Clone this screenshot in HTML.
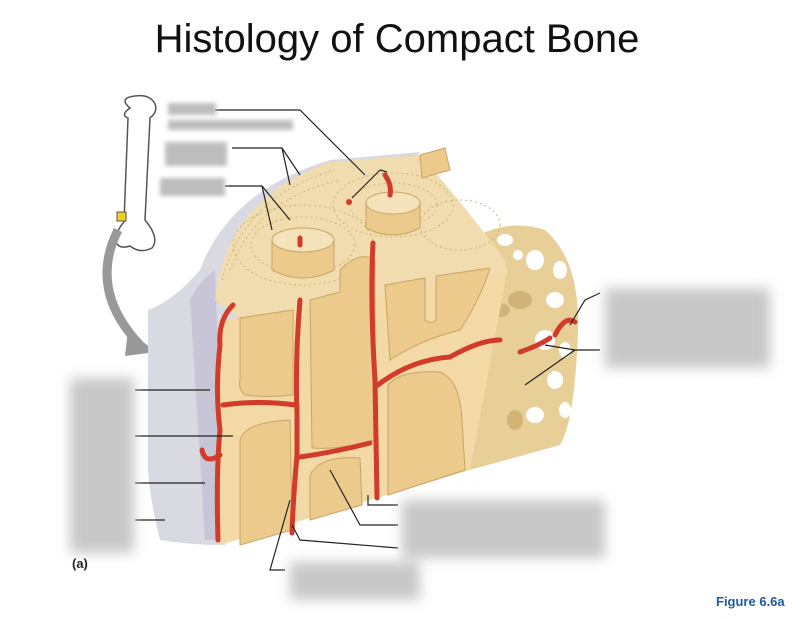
<!DOCTYPE html>
<html><head><meta charset="utf-8"><style>
body{margin:0;background:#fff;width:800px;height:614px;overflow:hidden;font-family:"Liberation Sans",sans-serif}
</style></head><body>
<svg width="800" height="614" viewBox="0 0 800 614" xmlns="http://www.w3.org/2000/svg">
<defs>
<filter id="b" x="-20%" y="-20%" width="140%" height="140%"><feGaussianBlur stdDeviation="6"/></filter>
<filter id="b2"><feGaussianBlur stdDeviation="2"/></filter>
</defs>
<text x="397" y="52" text-anchor="middle" font-size="40" fill="#111">Histology of Compact Bone</text>
<!-- small bone -->
<path d="M130 108 Q118 98 135 96 Q150 94 155 104 Q158 112 150 118 L145 220 Q160 238 152 248 Q140 254 130 246 Q118 250 115 240 Q118 228 124 222 L128 118 Q120 115 130 108Z" fill="#fff" stroke="#555" stroke-width="1.5"/>
<rect x="117" y="212" width="9" height="9" fill="#f0d020" stroke="#555"/>
<!-- arrow -->
<path d="M118 230 Q88 290 140 345" fill="none" stroke="#999" stroke-width="9"/>
<polygon points="128,330 156,352 125,356" fill="#999"/>
<!-- periosteum gray -->
<path d="M148 310 Q175 300 200 270 Q230 190 330 160 L420 152 L300 300 L225 545 Q190 545 160 540 Q150 500 148 470 Z" fill="#d9d9e1"/>
<path d="M190 300 Q200 280 215 270 L225 540 L205 540 Z" fill="#c8c6d6"/>
<!-- spongy bone -->
<path d="M455 250 Q500 215 545 230 Q580 260 578 330 Q575 420 560 445 L470 470 Z" fill="#e8cf98"/>
<g fill="#fff">
<ellipse cx="505" cy="240" rx="8" ry="6"/><ellipse cx="535" cy="260" rx="9" ry="10"/>
<ellipse cx="560" cy="270" rx="7" ry="9"/><ellipse cx="555" cy="300" rx="9" ry="8"/>
<ellipse cx="545" cy="340" rx="10" ry="10"/><ellipse cx="565" cy="350" rx="6" ry="8"/>
<ellipse cx="555" cy="380" rx="8" ry="9"/><ellipse cx="535" cy="415" rx="9" ry="8"/>
<ellipse cx="565" cy="410" rx="6" ry="8"/><ellipse cx="518" cy="255" rx="5" ry="5"/>
</g>
<g fill="#c9a86a" opacity="0.7">
<ellipse cx="520" cy="300" rx="12" ry="9"/><ellipse cx="500" cy="310" rx="10" ry="7"/>
<ellipse cx="515" cy="420" rx="8" ry="10"/>
</g>
<!-- top surface -->
<path d="M215 300 Q225 200 330 162 L420 155 Q460 200 505 260 L507 273 L240 318 Z" fill="#f0dcae"/>
<g fill="none" stroke="#d0b27a" stroke-width="1" stroke-dasharray="2 3">
<ellipse cx="303" cy="245" rx="70" ry="40"/><ellipse cx="303" cy="245" rx="52" ry="28"/>
<ellipse cx="393" cy="205" rx="60" ry="32"/><ellipse cx="393" cy="205" rx="44" ry="22"/>
<ellipse cx="460" cy="225" rx="40" ry="25"/>
<path d="M222 280 Q245 195 335 170"/><path d="M230 270 Q255 200 340 180"/>
</g>
<!-- front face -->
<path d="M220 320 L240 318 L507 273 L470 470 L220 545 Z" fill="#f2d9a6"/>
<g fill="#ecca8c" stroke="#c9a465" stroke-width="1">
<path d="M240 318 L293 310 L293 395 Q270 398 245 395 Q238 390 240 380 Z"/>
<path d="M310 300 L340 292 L340 270 Q360 250 375 260 L375 440 Q340 450 312 448 Z"/>
<path d="M385 285 L425 278 L425 320 Q432 325 436 320 L436 276 L490 268 Q480 300 460 330 Q420 340 390 360 Z"/>
<path d="M240 440 Q245 422 290 420 L292 530 L240 545 Z"/>
<path d="M310 475 Q320 455 360 458 L362 505 L310 520 Z"/>
<path d="M388 385 Q400 370 440 372 Q460 380 462 420 L465 470 L388 495 Z"/>
</g>
<!-- osteon cylinders -->
<path d="M272 240 L272 270 Q303 286 334 270 L334 240 Z" fill="#ecca8c" stroke="#c9a465"/>
<ellipse cx="303" cy="240" rx="31" ry="12" fill="#f4e2bb" stroke="#c9a465"/>
<path d="M366 203 L366 228 Q393 242 420 228 L420 203 Z" fill="#ecca8c" stroke="#c9a465"/>
<ellipse cx="393" cy="203" rx="27" ry="11" fill="#f4e2bb" stroke="#c9a465"/>
<path d="M420 155 L445 148 L450 170 L422 178 Z" fill="#ecca8c" stroke="#c9a465"/>
<!-- vessels -->
<g fill="none" stroke="#d23a2a" stroke-width="5" stroke-linecap="round">
<path d="M233 305 Q218 320 220 345 Q215 390 220 430 Q216 470 218 540"/>
<path d="M223 405 Q260 400 295 405"/>
<path d="M220 455 Q205 465 202 450"/>
<path d="M300 300 Q295 360 297 413 L297 455 Q293 500 292 533"/>
<path d="M300 457 Q335 452 370 443"/>
<path d="M373 243 Q370 300 375 380 L377 498"/>
<path d="M378 385 Q410 360 450 357 Q480 340 500 340"/>
<path d="M520 352 Q540 345 550 338 M555 335 Q565 315 575 322"/>
<path d="M300 238 L300 245 M385 175 Q392 185 390 195"/>
</g>
<circle cx="349" cy="202" r="3" fill="#d23a2a"/>
<!-- leader lines -->
<g stroke="#222" stroke-width="1.2" fill="none">
<path d="M215 110 L300 110 L365 175"/><path d="M380 170 L352 198 M380 170 L387 172"/>
<path d="M232 148 L282 148 L300 175 M282 148 L290 185"/>
<path d="M225 186 L262 186 L290 220 M262 186 L272 230"/>
<path d="M600 293 L585 300 L570 325"/><path d="M600 350 L575 350 L525 385 M575 350 L545 345"/>
<path d="M135 390 L210 390"/><path d="M135 436 L233 436"/><path d="M135 483 L205 483"/><path d="M135 520 L165 520"/>
<path d="M398 505 L368 505 L368 495"/>
<path d="M398 525 L360 525 L330 470"/><path d="M398 548 L300 540 L292 525"/><path d="M285 570 L270 570 L290 500"/>
</g>
<!-- blurred label boxes -->
<g fill="#c8c8c8" filter="url(#b)">
<rect x="70" y="378" width="64" height="175"/>
<rect x="605" y="288" width="165" height="80"/>
<rect x="402" y="500" width="203" height="58"/>
<rect x="290" y="562" width="130" height="38"/>
</g>
<g fill="#bdbdbd" filter="url(#b2)">
<rect x="168" y="103" width="48" height="12"/><rect x="168" y="120" width="125" height="10"/>
<rect x="165" y="142" width="62" height="24"/><rect x="160" y="178" width="65" height="18"/>
</g>
<text x="72" y="568" font-size="13" font-weight="bold" fill="#222">(a)</text>
<text x="716" y="606" font-size="13" font-weight="bold" fill="#1f5aa6">Figure 6.6a</text>
</svg>
</body></html>
